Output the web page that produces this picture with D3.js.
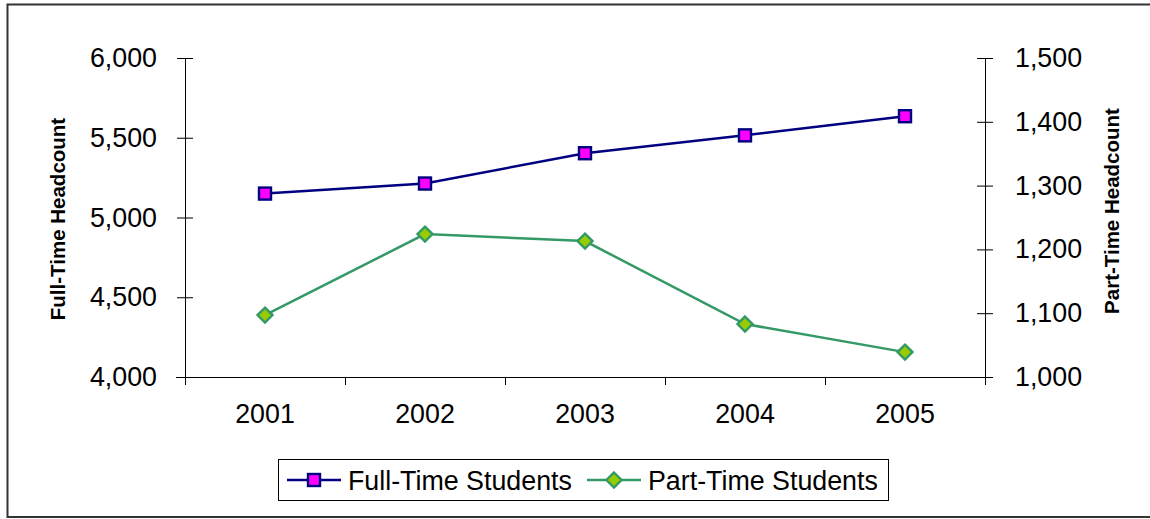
<!DOCTYPE html>
<html><head><meta charset="utf-8">
<script src="https://cdn.jsdelivr.net/npm/d3@7"></script>
<style>body{margin:0;background:#fff}svg{display:block}text{font-family:"Liberation Sans",Arial,sans-serif}</style>
</head><body>
<svg id="c" width="1150" height="519"></svg>
<script>
const years = ["2001","2002","2003","2004","2005"];
const fullTime = [5150, 5213, 5403, 5515, 5635];
const partTime = [1097, 1224, 1213, 1083, 1039];
const leftTicks = [4000, 4500, 5000, 5500, 6000];
const rightTicks = [1000, 1100, 1200, 1300, 1400, 1500];
const seriesNames = ["Full-Time Students", "Part-Time Students"];

const svg = d3.select("#c");
const L = 185, R = 985, T = 58, B = 377;
const FS = 26.8;
svg.append("rect").attr("x",7.5).attr("y",4.5).attr("width",1160).attr("height",512.5)
  .attr("fill","#fff").attr("stroke","#333").attr("stroke-width",2);

const x = d3.scaleBand().domain(years).range([L,R]);
const yL = d3.scaleLinear().domain([4000,6000]).range([B,T]);
const yR = d3.scaleLinear().domain([1000,1500]).range([B,T]);
const fmt = d3.format(",");

// left axis
const gl = svg.append("g").attr("transform",`translate(${L},0)`)
  .call(d3.axisLeft(yL).tickValues(leftTicks).tickFormat(fmt).tickSizeOuter(0).tickSizeInner(8).tickPadding(20));
gl.selectAll(".tick line").attr("x1",8);
// right axis
const gr = svg.append("g").attr("transform",`translate(${R},0)`)
  .call(d3.axisRight(yR).tickValues(rightTicks).tickFormat(fmt).tickSizeOuter(0).tickSizeInner(8).tickPadding(22));
gr.selectAll(".tick line").attr("x1",-8);
// x axis
const gx = svg.append("g").attr("transform",`translate(0,${B})`)
  .call(d3.axisBottom(x).tickSize(0).tickPadding(27));
gx.select(".domain").remove();
svg.append("line").attr("x1",L-9).attr("x2",R+8).attr("y1",B+0.5).attr("y2",B+0.5).attr("stroke","#000");
const bounds = [L, ...years.map(d=>x(d)+x.bandwidth())];
svg.selectAll(".xt").data(bounds).enter().append("line")
  .attr("x1",d=>d+0.5).attr("x2",d=>d+0.5).attr("y1",B).attr("y2",B+8).attr("stroke","#000");

[gl,gr,gx].forEach(g=>{
  g.selectAll("text").attr("font-size",FS).attr("fill","#000").attr("font-family","Liberation Sans, Arial, sans-serif");
  g.selectAll(".domain").attr("stroke","#000");
  g.selectAll("line").attr("stroke","#000");
});

// axis titles
svg.append("text").attr("transform","translate(65,219) rotate(-90)").attr("text-anchor","middle")
  .attr("font-size",20.5).attr("font-weight","bold").text("Full-Time Headcount");
svg.append("text").attr("transform","translate(1119,211) rotate(-90)").attr("text-anchor","middle")
  .attr("font-size",20.5).attr("font-weight","bold").text("Part-Time Headcount");

const cx = d => x(d)+x.bandwidth()/2;
// lines
svg.append("path").datum(fullTime).attr("fill","none").attr("stroke","#000080").attr("stroke-width",2.5)
  .attr("d", d3.line().x((d,i)=>cx(years[i])).y(d=>yL(d)));
svg.append("path").datum(partTime).attr("fill","none").attr("stroke","#339966").attr("stroke-width",2.5)
  .attr("d", d3.line().x((d,i)=>cx(years[i])).y(d=>yR(d)));

function square(g, px, py){
  g.append("rect").attr("x",px-6).attr("y",py-6).attr("width",12).attr("height",12)
   .attr("fill","#ff00ff").attr("stroke","#000080").attr("stroke-width",2.4);
}
function diamond(g, px, py){
  g.append("path").attr("d",`M${px},${py-7.5}L${px+7.5},${py}L${px},${py+7.5}L${px-7.5},${py}Z`)
   .attr("fill","#99cc00").attr("stroke","#339966").attr("stroke-width",2.4);
}
fullTime.forEach((v,i)=>square(svg, cx(years[i]), yL(v)));
partTime.forEach((v,i)=>diamond(svg, cx(years[i]), yR(v)));

// legend
const lg = svg.append("g");
lg.append("rect").attr("x",278.5).attr("y",459.5).attr("width",610).attr("height",41)
  .attr("fill","#fff").attr("stroke","#000").attr("stroke-width",1);
const ly = 480;
lg.append("line").attr("x1",287).attr("x2",341).attr("y1",ly).attr("y2",ly).attr("stroke","#000080").attr("stroke-width",2.5);
square(lg, 314, ly);
lg.append("text").attr("x",348).attr("y",ly+9.5).attr("font-size",FS).text(seriesNames[0]);
lg.append("line").attr("x1",587).attr("x2",641).attr("y1",ly).attr("y2",ly).attr("stroke","#339966").attr("stroke-width",2.5);
diamond(lg, 614, ly);
lg.append("text").attr("x",648).attr("y",ly+9.5).attr("font-size",FS).text(seriesNames[1]);
</script>
</body></html>
